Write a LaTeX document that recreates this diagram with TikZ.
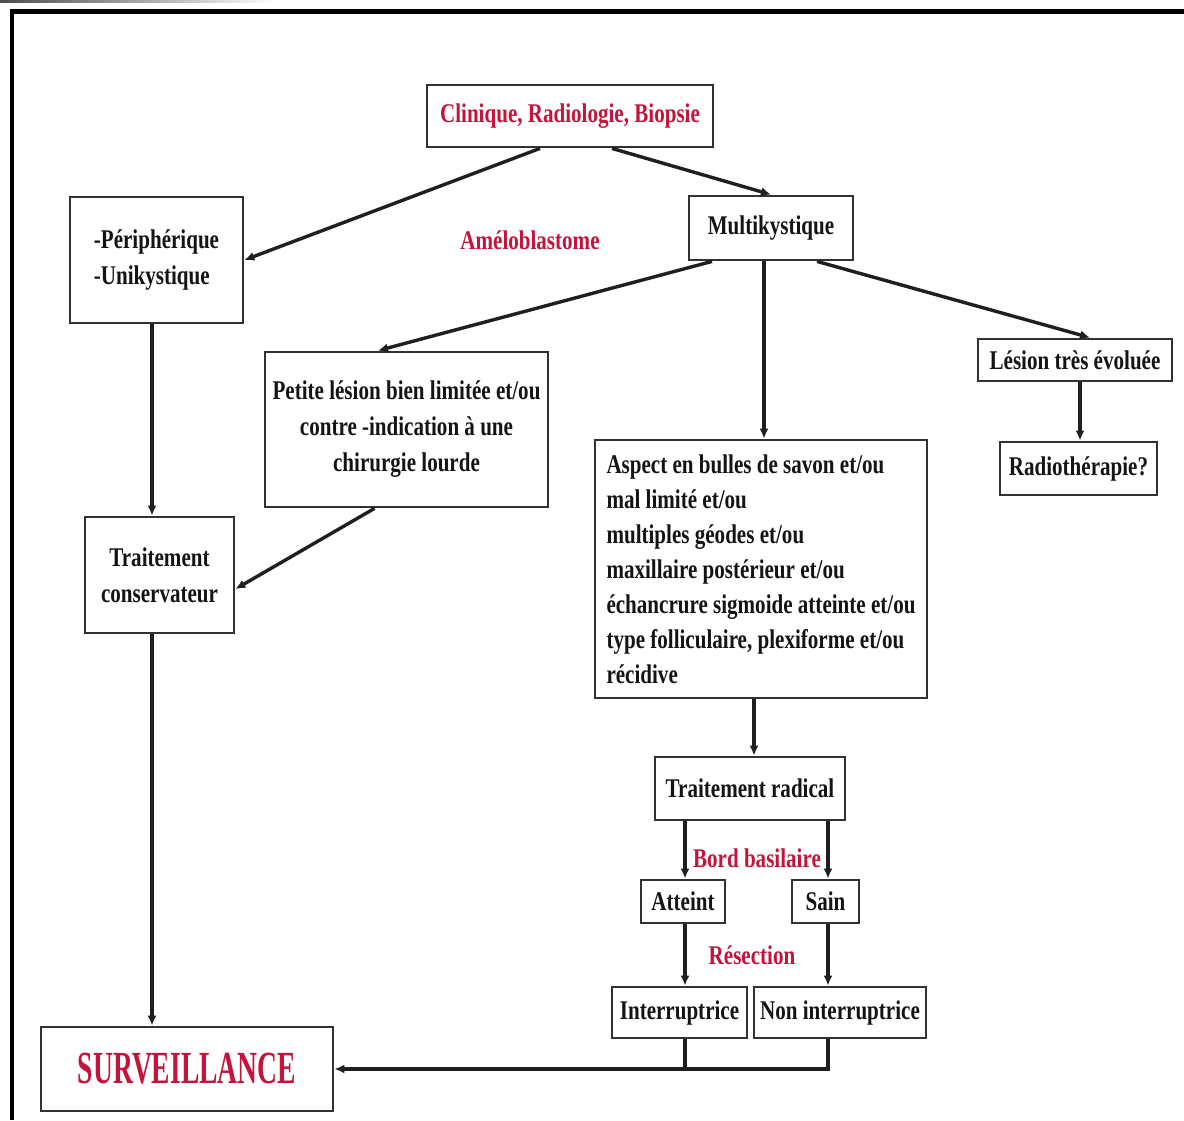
\documentclass[tikz,border=0pt]{standalone}
\usepackage{fontspec}
\setmainfont{Liberation Serif}[FakeStretch=0.78]
\newfontfamily\survfont{Liberation Serif}[FakeStretch=0.6]
\usetikzlibrary{arrows.meta}
\definecolor{txtred}{RGB}{196,20,60}
\definecolor{boxgray}{RGB}{50,50,50}
\begin{document}
\begin{tikzpicture}[x=0.5pt,y=-0.5pt,
  box/.style={draw=boxgray, line width=1.4pt, fill=white, inner sep=0pt,
    font=\bfseries\fontsize{13.5pt}{18pt}\selectfont, text=black!92, align=center},
  redlbl/.style={inner sep=0pt, font=\bfseries\fontsize{13.5pt}{18pt}\selectfont, text=txtred},
  arr/.style={line width=1.7pt, draw=black!88, -{Latex[length=5pt,width=4.5pt]}},
  plain/.style={line width=1.7pt, draw=black!88}]
\useasboundingbox (0,0) rectangle (1184,1120);
\fill[white] (0,0) rectangle (1184,1120);
% frame
\shade[left color=black!70, right color=white] (0,0) rectangle (275,2.5);
\draw[line width=2.2pt, line join=miter] (12,1120) -- (12,11.5) -- (1184,11.5);

% nodes
\node[box, minimum width=143pt, minimum height=31pt, text=txtred] (clin) at (570,116) {Clinique, Radiologie, Biopsie};
\node[box, minimum width=82pt, minimum height=32pt] (multi) at (771,228) {Multikystique};
\node[redlbl] (amelo) at (530,240) {Améloblastome};
\node[box, minimum width=86.5pt, minimum height=63pt, align=left] (peri) at (156.5,260) {-Périphérique\\-Unikystique};
\node[box, minimum width=141.5pt, minimum height=77.5pt] (petite) at (406.5,429.5) {Petite lésion bien limitée et/ou\\contre -indication à une\\chirurgie lourde};
\node[box, minimum width=166pt, minimum height=129pt, align=left, font=\bfseries\fontsize{13.5pt}{17.5pt}\selectfont] (aspect) at (761,569) {Aspect en bulles de savon et/ou\\mal limité et/ou\\multiples géodes et/ou\\maxillaire postérieur et/ou\\échancrure sigmoide atteinte et/ou\\type folliculaire, plexiforme et/ou\\récidive};
\node[box, minimum width=97pt, minimum height=21pt] (lesion) at (1075,360) {Lésion très évoluée};
\node[box, minimum width=78.5pt, minimum height=26.5pt] (radio) at (1078.5,468.5) {Radiothérapie?};
\node[box, minimum width=74.5pt, minimum height=58pt] (tcons) at (159.5,575) {Traitement\\conservateur};
\node[box, minimum width=95pt, minimum height=31.5pt] (trad) at (750,788.5) {Traitement radical};
\node[redlbl] (bord) at (757,858) {Bord basilaire};
\node[box, minimum width=42pt, minimum height=21.5pt] (att) at (683,901.5) {Atteint};
\node[box, minimum width=33.5pt, minimum height=21.5pt] (sain) at (825.5,901.5) {Sain};
\node[redlbl] (resec) at (752,955) {Résection};
\node[box, minimum width=67.5pt, minimum height=25.5pt] (inter) at (679.5,1012.5) {Interruptrice};
\node[box, minimum width=86pt, minimum height=25.5pt] (noninter) at (840,1012.5) {Non interruptrice};
\node[box, minimum width=146pt, minimum height=42pt, text=txtred, font=\survfont\bfseries\fontsize{23pt}{26pt}\selectfont] (surv) at (187,1069) {SURVEILLANCE};

% connectors
\draw[arr] ([xshift=-15pt]clin.south) -- (peri.east);
\draw[arr] ([xshift=21pt]clin.south) -- (multi.north);
\draw[arr] ([xshift=-29.5pt]multi.south) -- ([xshift=-14.25pt]petite.north);
\draw[arr] ([xshift=-3.5pt]multi.south) -- ([xshift=-3.5pt]multi.south |- aspect.north);
\draw[arr] ([xshift=23pt]multi.south) -- ([xshift=7.5pt]lesion.north);
\draw[arr] ([xshift=2.5pt]lesion.south) -- ([xshift=2.5pt]lesion.south |- radio.north);
\draw[arr] ([xshift=-2.25pt]peri.south) -- ([xshift=-2.25pt]peri.south |- tcons.north);
\draw[arr] ([xshift=-16pt]petite.south) -- ([yshift=-7pt]tcons.east);
\draw[arr] ([xshift=-3.75pt]tcons.south) -- ([xshift=-3.75pt]tcons.south |- surv.north);
\draw[arr] ([xshift=-3.5pt]aspect.south) -- ([xshift=-3.5pt]aspect.south |- trad.north);
\draw[arr] ([xshift=-32.5pt]trad.south) -- ([xshift=-32.5pt]trad.south |- att.north);
\draw[arr] ([xshift=39pt]trad.south) -- ([xshift=39pt]trad.south |- sain.north);
\draw[arr] ([xshift=1pt]att.south) -- ([xshift=1pt]att.south |- inter.north);
\draw[arr] ([xshift=1.25pt]sain.south) -- ([xshift=1.25pt]sain.south |- noninter.north);
\draw[plain] ([xshift=2.75pt]inter.south) -- ([xshift=2.75pt]inter.south |- surv.east);
\draw[arr] ([xshift=-6pt]noninter.south) -- ([xshift=-6pt]noninter.south |- surv.east) -- (surv.east);
\end{tikzpicture}
\end{document}
